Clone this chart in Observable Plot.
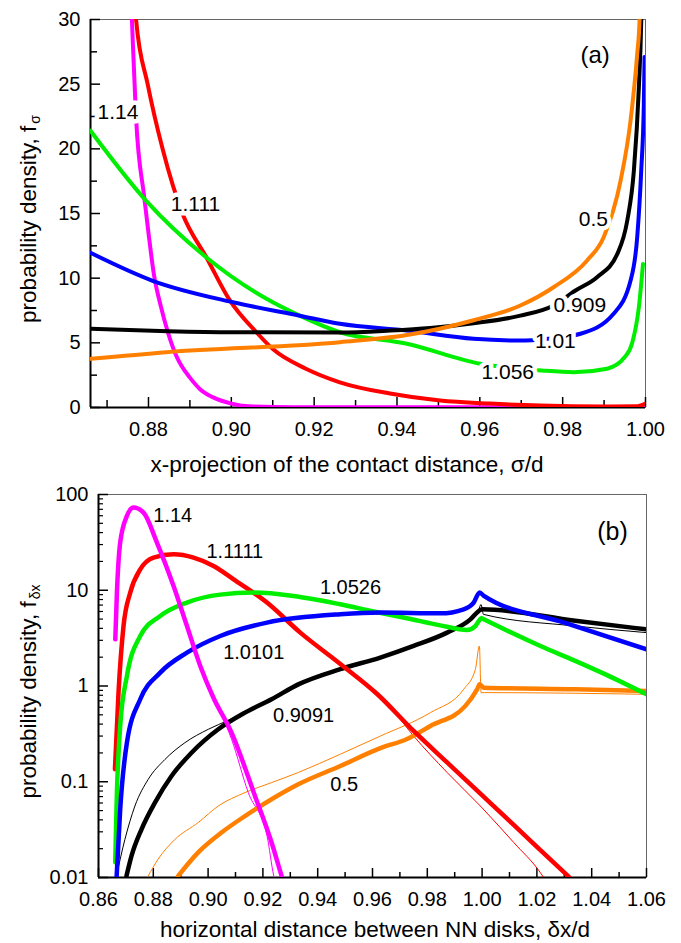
<!DOCTYPE html>
<html><head><meta charset="utf-8">
<script src="https://cdn.jsdelivr.net/npm/d3@7"></script>
<script src="https://cdn.jsdelivr.net/npm/@observablehq/plot@0.6"></script>
<style>
body{margin:0;background:#fff;}
#chart{width:681px;}
#chart svg{display:block;}
</style></head><body><div id="chart"></div>
<script>
// ---------- Panel (a): f_sigma, linear y ----------
const aXDomain = [0.866, 1.0];
const aYDomain = [0, 30];
const aXMajor = [0.88, 0.90, 0.92, 0.94, 0.96, 0.98, 1.00];
const aXMinor = [0.87, 0.89, 0.91, 0.93, 0.95, 0.97, 0.99];
const aYMajor = [0, 5, 10, 15, 20, 25, 30];
const aYMinor = [2.5, 7.5, 12.5, 17.5, 22.5, 27.5];

const a_114 = [[0.8755,34],[0.8760,30],[0.8770,22.4],[0.8790,16.2],[0.8800,13.5],[0.8813,10.3],[0.8830,7.8],[0.8847,5.8],[0.8867,4.0],[0.8880,3.2],[0.8899,2.35],[0.8925,1.4],[0.8955,0.8],[0.9000,0.3],[0.9050,0.08],[0.9150,0.02],[1.0,0.01]];
const a_1111 = [[0.8765,34],[0.8770,30],[0.8798,25],[0.8834,20],[0.8882,15],[0.8940,11.6],[0.8996,8.3],[0.9061,5.8],[0.9101,4.5],[0.9180,3.0],[0.9262,1.95],[0.9383,1.08],[0.9504,0.54],[0.9625,0.3],[0.9746,0.15],[0.9900,0.08],[0.9980,0.1],[1.0,0.3]];
const a_1056 = [[0.866,21.4],[0.8794,16.0],[0.8940,11.6],[0.9085,8.4],[0.9165,7.1],[0.9262,5.82],[0.9424,4.93],[0.9601,3.38],[0.9750,2.86],[0.9827,2.73],[0.9907,3.0],[0.9950,3.9],[0.9968,5.0],[0.9984,7.76],[0.9994,11.1]];
const a_101 = [[0.866,11.96],[0.8810,9.8],[0.9004,8.14],[0.9165,7.1],[0.9262,6.47],[0.9424,5.95],[0.9585,5.31],[0.9698,5.18],[0.9760,5.3],[0.9843,5.7],[0.9923,7.25],[0.9964,9.82],[0.9980,13.17],[0.99897,18.33],[0.9996,23.5],[0.99977,27.1]];
const a_0909 = [[0.866,6.08],[0.8847,5.9],[0.9004,5.82],[0.9262,5.8],[0.9383,5.95],[0.9480,6.15],[0.9580,6.5],[0.9698,7.1],[0.9778,7.89],[0.9831,9.05],[0.9883,10.08],[0.9932,11.88],[0.9956,14.46],[0.9972,18.33],[0.9984,24.77],[0.99897,29.9],[0.9992,34]];
const a_05 = [[0.866,3.76],[0.8843,4.28],[0.9262,5.05],[0.9424,5.6],[0.9585,6.75],[0.9698,7.89],[0.9778,9.3],[0.9859,11.37],[0.9899,13.17],[0.9940,17.56],[0.9964,22.2],[0.9980,27.35],[0.99856,29.9],[0.9988,34]];

const aLabels = [
  {x:0.8677, y:22.84, t:"1.14"},
  {x:0.8854, y:15.7, t:"1.111"},
  {x:0.9839, y:14.54, t:"0.5"},
  {x:0.9778, y:7.89, t:"0.909"},
  {x:0.9733, y:5.1, t:"1.01"},
  {x:0.9604, y:2.73, t:"1.056"}
];
const aTag = [{x:0.9843, y:27.2, t:"(a)"}];

// ---------- Panel (b): f_dx, log y ----------
const bXDomain = [0.86, 1.06];
const bYDomain = [0.01, 100];
const bXMajor = [0.86,0.88,0.90,0.92,0.94,0.96,0.98,1.00,1.02,1.04,1.06];
const bXMinor = [0.87,0.89,0.91,0.93,0.95,0.97,0.99,1.01,1.03,1.05];
const bYMajor = [0.01, 0.1, 1, 10, 100];
const bYMinor = [0.02,0.03,0.04,0.05,0.06,0.07,0.08,0.09,0.2,0.3,0.4,0.5,0.6,0.7,0.8,0.9,2,3,4,5,6,7,8,9,20,30,40,50,60,70,80,90];

const b_114 = [[0.86613,3.07],[0.86672,9.45],[0.86792,31.5],[0.87037,59.7],[0.87278,73],[0.87643,64.7],[0.88132,31.5],[0.88739,11.07],[0.89228,4.23],[0.89714,1.62],[0.90199,0.75],[0.90856,0.326],[0.91711,0.0711],[0.92317,0.0232],[0.92682,0.0104],[0.9275,0.009]];
const b_114thin = [[0.89714,1.62],[0.90199,0.75],[0.90856,0.278],[0.91466,0.0771],[0.92152,0.0271],[0.92396,0.0104],[0.9245,0.009]];
const b_1111 = [[0.8660,0.135],[0.8673,0.85],[0.86913,4.23],[0.87158,9.45],[0.87523,16.5],[0.88008,21.9],[0.88739,23.7],[0.89469,21.9],[0.90199,17.9],[0.9093,13.0],[0.92149,7.44],[0.93365,3.61],[0.94826,1.7],[0.9616,0.83],[0.97502,0.339],[0.98722,0.159],[0.99937,0.075],[1.01154,0.0354],[1.02615,0.0143],[1.0310,0.0106],[1.0325,0.0096]];
const b_1111thin = [[0.9616,0.83],[0.9665,0.6],[0.97502,0.3],[0.98722,0.125],[0.99937,0.0558],[1.01154,0.0232],[1.0213,0.0112],[1.0235,0.009]];
const b_10526 = [[0.8661,0.0144],[0.86672,0.0771],[0.86792,0.382],[0.87037,1.27],[0.87523,3.33],[0.88253,5.38],[0.89228,7.44],[0.90444,9.0],[0.9166,9.45],[0.9312,8.72],[0.94826,7.13],[0.96042,6.0],[0.97261,5.1],[0.98478,4.3],[0.99452,3.85],[0.99755,4.23],[0.9998,5.1],[1.0006,4.97],[1.0213,2.62],[1.0342,1.82],[1.0456,1.3],[1.06,0.82]];
const b_10101 = [[0.8666,0.01],[0.86792,0.0516],[0.87037,0.256],[0.87523,0.727],[0.88253,1.38],[0.89228,2.23],[0.90444,3.33],[0.92149,4.59],[0.94826,5.61],[0.96286,5.84],[0.98478,5.74],[0.99328,6.33],[0.99693,7.44],[0.99912,9.5],[1.0005,8.8],[1.03,4.6],[1.06,2.42]];
const b_09091 = [[0.87022,0.0104],[0.87205,0.0168],[0.8757,0.0319],[0.8806,0.0606],[0.88666,0.115],[0.89396,0.201],[0.90371,0.353],[0.91346,0.527],[0.92317,0.727],[0.93292,1.04],[0.94826,1.5],[0.96286,1.98],[0.97502,2.62],[0.98722,3.61],[0.99573,4.97],[0.99876,6.07],[1.0,6.33],[1.034,4.8],[1.06,3.9]];
const b_09091thin = [[0.86657,0.0104],[0.86964,0.025],[0.87329,0.0558],[0.87815,0.106],[0.88425,0.171],[0.89155,0.256],[0.90006,0.353],[0.9075,0.44],[0.91346,0.527],[0.92317,0.727],[0.93292,1.04],[0.94826,1.5],[0.96286,1.98],[0.97502,2.62],[0.98722,3.61],[0.99573,4.97],[0.99876,6.3],[0.9996,7.1],[1.0005,5.6],[1.034,4.23],[1.06,3.61]];
const b_05 = [[0.8891,0.0104],[0.8964,0.0183],[0.90491,0.0295],[0.91346,0.0438],[0.92317,0.0656],[0.93292,0.094],[0.94826,0.146],[0.96286,0.224],[0.97261,0.28],[0.98112,0.382],[0.9939,0.62],[0.99817,0.924],[0.99912,1.04],[1.00058,0.96],[1.0342,0.924],[1.06,0.887]];
const b_05thin = [[0.87815,0.0104],[0.8818,0.0156],[0.8879,0.025],[0.8964,0.0375],[0.90371,0.0558],[0.91346,0.0771],[0.92317,0.098],[0.93292,0.125],[0.94826,0.194],[0.96286,0.3],[0.98112,0.527],[0.99328,0.924],[0.99755,1.49],[0.99901,2.62],[0.99963,0.85],[1.0009,0.853],[1.06,0.819]];

const bLabels = [
  {x:0.8800, y:60.6, t:"1.14"},
  {x:0.8994, y:25.1, t:"1.1111"},
  {x:0.9408, y:10.66, t:"1.0526"},
  {x:0.9055, y:2.26, t:"1.0101"},
  {x:0.9237, y:0.494, t:"0.9091"},
  {x:0.9446, y:0.094, t:"0.5"}
];
const bTag = [{x:1.042, y:40.5, t:"(b)"}];

const C = {m:"#ff00ff", r:"#ff0000", g:"#00ee00", b:"#0000ff", k:"#000000", o:"#ff8000"};
const FONT = "'Liberation Sans', Arial, Helvetica, sans-serif";
const px = d => d[0], py = d => d[1];

function thick(data, color, w) { return Plot.line(data, {x: px, y: py, stroke: color, strokeWidth: w, clip: true, curve: "monotone-x"}); }
function thin(data, color) { return Plot.line(data, {x: px, y: py, stroke: color, strokeWidth: 1, clip: true, curve: "monotone-x"}); }

// ----- Panel (a)
const aH = 478, aMT = 19, aMB = 71, aML = 90, aMR = 36;
const aPH = aH - aMT - aMB, aPW = 681 - aML - aMR;
const plotA = Plot.plot({
  width: 681, height: aH,
  marginTop: aMT, marginBottom: aMB, marginLeft: aML, marginRight: aMR,
  style: {fontFamily: FONT, background: "white", color: "black", overflow: "visible"},
  x: {domain: aXDomain},
  y: {domain: aYDomain},
  marks: [
    Plot.frame({stroke: "#666", strokeWidth: 1}),
    Plot.ruleX([aXDomain[0]], {stroke: "black", strokeWidth: 2}),
    Plot.ruleY([aYDomain[0]], {stroke: "black", strokeWidth: 2}),
    Plot.tickX(aXMajor, {x: d => d, insetTop: aPH - 10, stroke: "black", strokeWidth: 1.5}),
    Plot.tickX(aXMinor, {x: d => d, insetTop: aPH - 7, stroke: "black", strokeWidth: 1.5}),
    Plot.tickY(aYMajor, {y: d => d, insetRight: aPW - 10, stroke: "black", strokeWidth: 1.5}),
    Plot.tickY(aYMinor, {y: d => d, insetRight: aPW - 7, stroke: "black", strokeWidth: 1.5}),
    thick(a_114, C.m, 4),
    thick(a_1111, C.r, 4),
    thick(a_1056, C.g, 4),
    thick(a_101, C.b, 4),
    thick(a_0909, C.k, 4),
    thick(a_05, C.o, 4),
    Plot.text(aLabels, {x: "x", y: "y", text: "t", textAnchor: "start", fontSize: 21, fill: "black", stroke: "white", strokeWidth: 9}),
    Plot.text(aTag, {x: "x", y: "y", text: "t", textAnchor: "start", fontSize: 24, fill: "black"}),
    Plot.axisX(aXMajor, {tickSize: 0, tickPadding: 14, tickFormat: d3.format(".2f"), label: null, fontSize: 20}),
    Plot.axisY(aYMajor, {tickSize: 0, tickPadding: 10, tickFormat: d => String(d), label: null, fontSize: 20})
  ]
});

// ----- Panel (b)
const bH = 465, bMT = 16, bMB = 66, bML = 98, bMR = 35;
const bPH = bH - bMT - bMB, bPW = 681 - bML - bMR;
const plotB = Plot.plot({
  width: 681, height: bH,
  marginTop: bMT, marginBottom: bMB, marginLeft: bML, marginRight: bMR,
  style: {fontFamily: FONT, background: "white", color: "black", overflow: "visible"},
  x: {domain: bXDomain},
  y: {type: "log", domain: bYDomain},
  marks: [
    Plot.frame({stroke: "#666", strokeWidth: 1}),
    Plot.ruleX([bXDomain[0]], {stroke: "black", strokeWidth: 2}),
    Plot.ruleY([bYDomain[0]], {stroke: "black", strokeWidth: 2}),
    Plot.tickX(bXMajor, {x: d => d, insetTop: bPH - 9, stroke: "black", strokeWidth: 1.5}),
    Plot.tickX(bXMinor, {x: d => d, insetTop: bPH - 5, stroke: "black", strokeWidth: 1.5}),
    Plot.tickY(bYMajor, {y: d => d, insetRight: bPW - 10, stroke: "black", strokeWidth: 1.5}),
    Plot.tickY(bYMinor, {y: d => d, insetRight: bPW - 5, stroke: "black", strokeWidth: 1.2}),
    thin(b_05thin, C.o),
    thin(b_09091thin, C.k),
    thin(b_1111thin, C.r),
    thin(b_114thin, C.m),
    thick(b_05, C.o, 4.5),
    thick(b_09091, C.k, 4.5),
    thick(b_1111, C.r, 4.5),
    thick(b_10526, C.g, 4.5),
    thick(b_10101, C.b, 4.5),
    thick(b_114, C.m, 4.5),
    Plot.text(bLabels, {x: "x", y: "y", text: "t", textAnchor: "start", fontSize: 20, fill: "black", stroke: "white", strokeWidth: 4}),
    Plot.text(bTag, {x: "x", y: "y", text: "t", textAnchor: "start", fontSize: 25, fill: "black"}),
    Plot.axisX(bXMajor, {tickSize: 0, tickPadding: 14, tickFormat: d3.format(".2f"), label: null, fontSize: 20}),
    Plot.axisY(bYMajor, {tickSize: 0, tickPadding: 10, tickFormat: d => String(d), label: null, fontSize: 20})
  ]
});

function addTitles(svg, yMain, ySub, yCenter, xTitle, xCenter, xBaseline) {
  const s = d3.select(svg);
  const t = s.append("text")
    .attr("transform", `translate(36,${yCenter}) rotate(-90)`)
    .attr("text-anchor", "middle")
    .attr("font-family", FONT).attr("font-size", 22.5).attr("fill", "black");
  t.append("tspan").text(yMain);
  t.append("tspan").attr("dy", "0.32em").attr("dx", "2").attr("font-size", 14).text(ySub);
  s.append("text")
    .attr("x", xCenter).attr("y", xBaseline)
    .attr("text-anchor", "middle")
    .attr("font-family", FONT).attr("font-size", 22.5).attr("fill", "black")
    .text(xTitle);
}
addTitles(plotA, "probability density, f", "σ", 219, "x-projection of the contact distance, σ/d", 347, 471.5);
addTitles(plotB, "probability density, f", "δx", 213.5, "horizontal distance between NN disks, δx/d", 375, 458.5);

const root = document.getElementById("chart");
root.appendChild(plotA);
root.appendChild(plotB);
</script>
</body></html>
